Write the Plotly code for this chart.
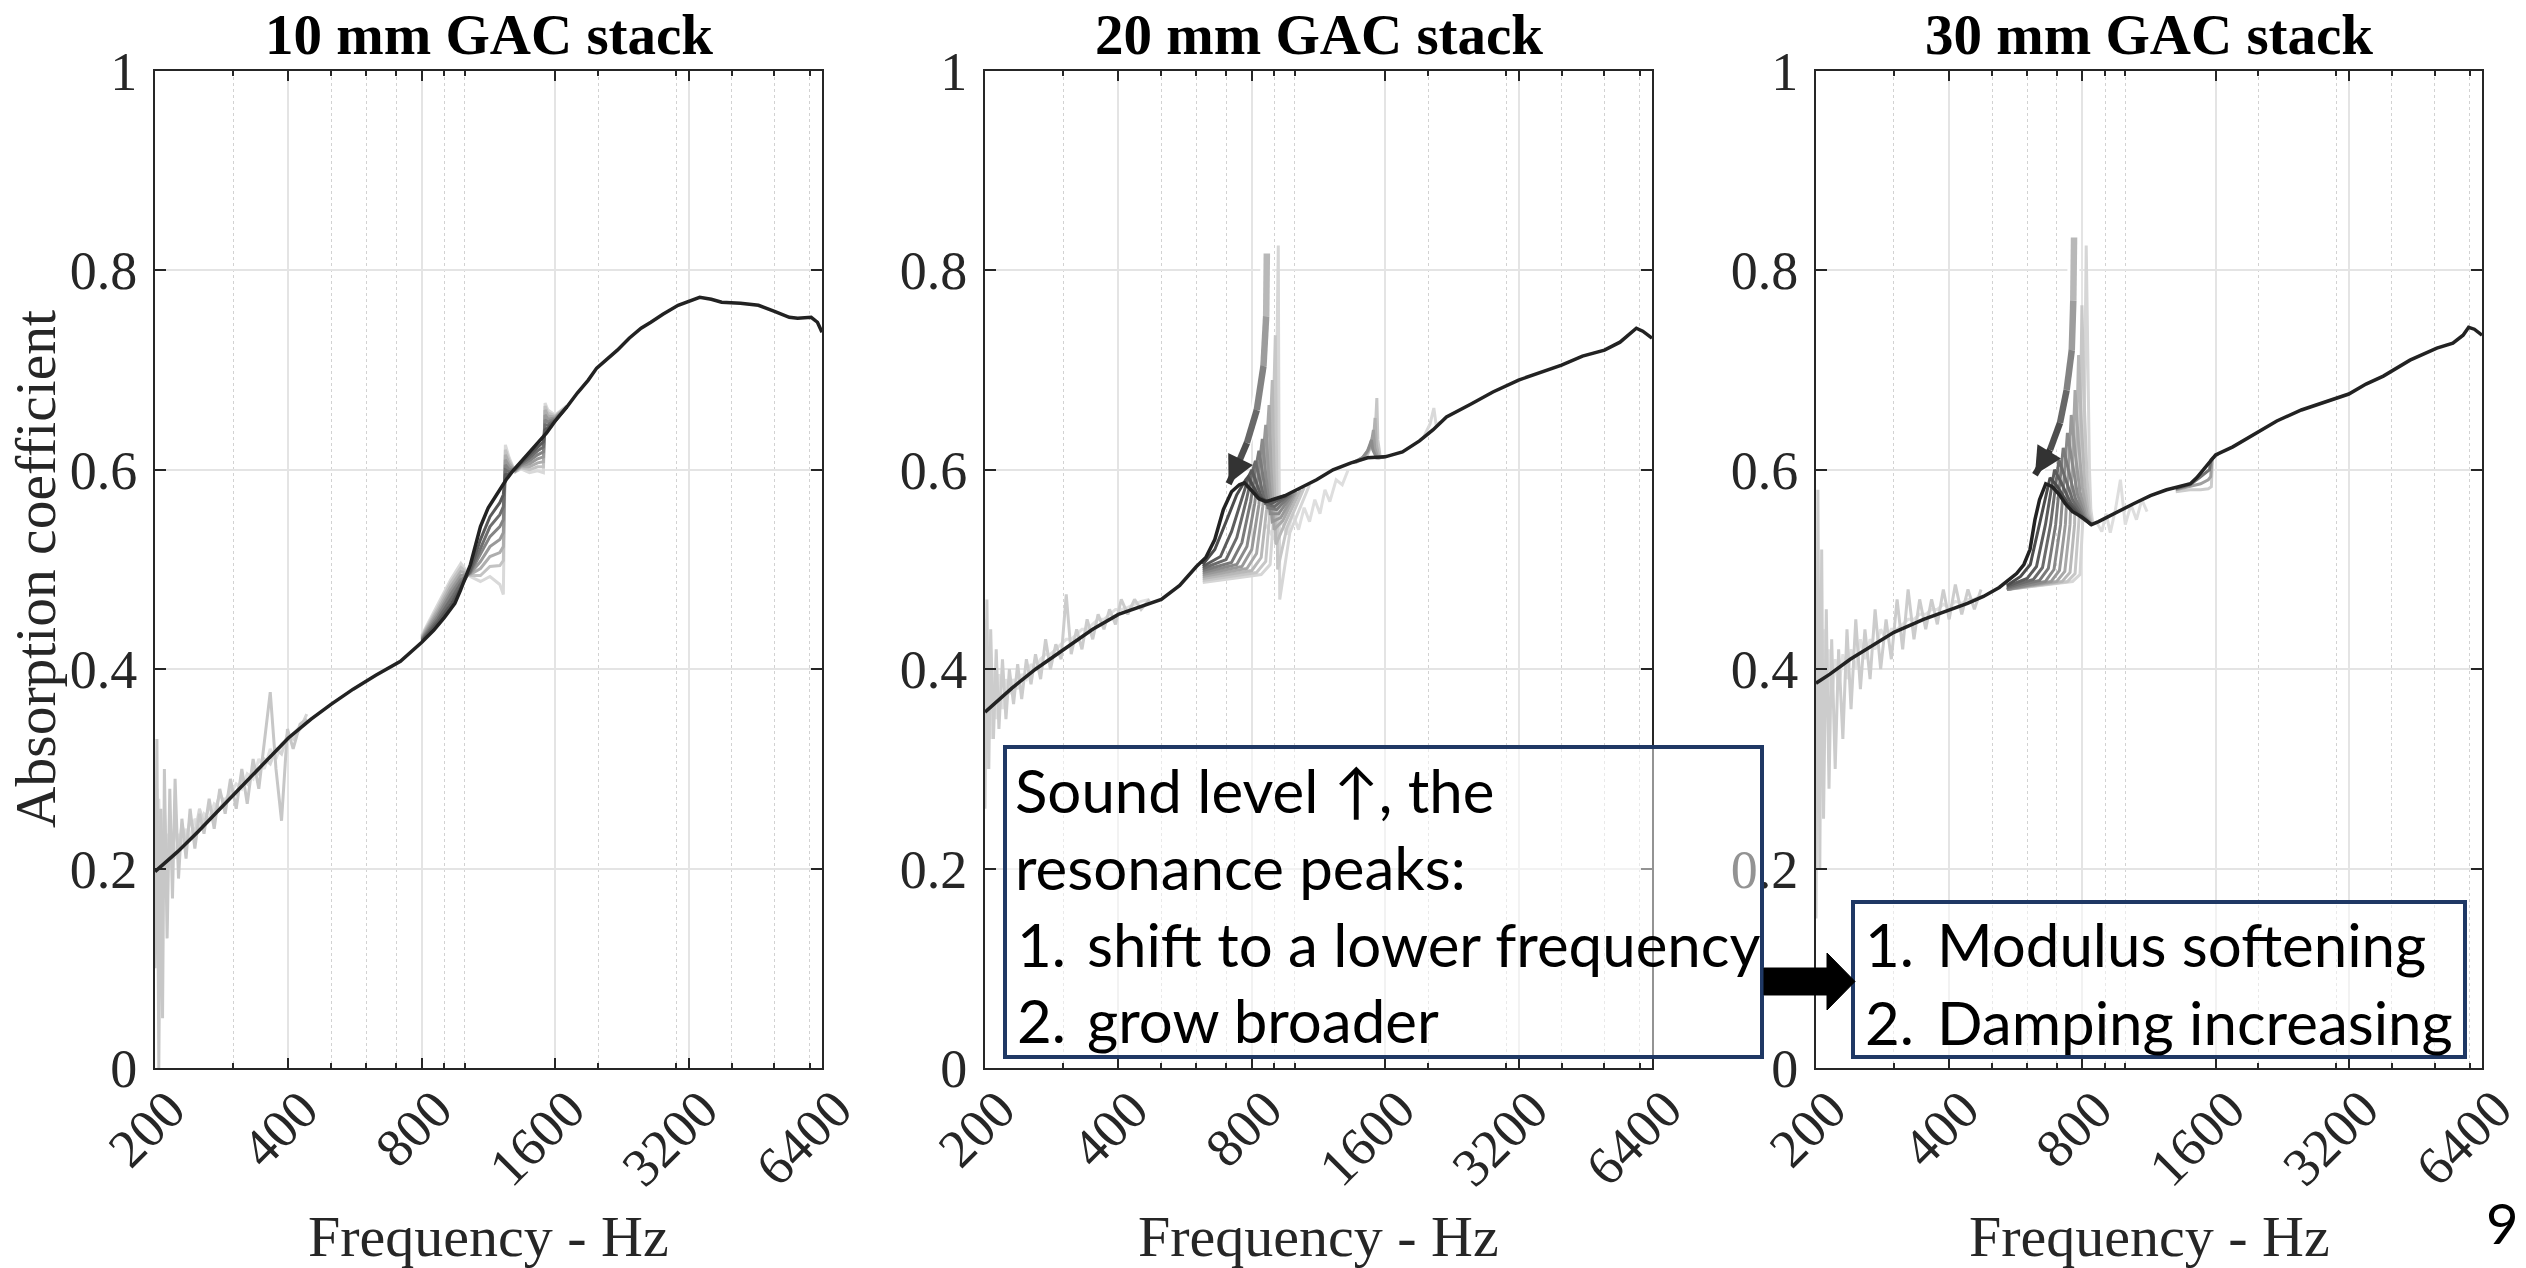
import math
import plotly.graph_objects as go

W, H = 2526, 1268

# ---------------- text / ticks ----------------
TITLES = ["10 mm GAC stack", "20 mm GAC stack", "30 mm GAC stack"]
X_TITLE = "Frequency - Hz"
Y_TITLE = "Absorption coefficient"
TICK_F = [200, 400, 800, 1600, 3200, 6400]
TICK_LABELS = ["200", "400", "800", "1600", "3200", "6400"]
MINOR_F = [300, 500, 600, 700, 900, 1000, 2000, 3000, 4000, 5000, 6000]
Y_TICKS = [0, 0.2, 0.4, 0.6, 0.8, 1.0]
Y_LABELS = ["0", "0.2", "0.4", "0.6", "0.8", "1"]

BOX1_LINES = [("", "Sound level \u2191, the"), ("", "resonance peaks:"),
              ("1.", "shift to a lower frequency"), ("2.", "grow broader")]
BOX2_LINES = [("1.", "Modulus softening"), ("2.", "Damping increasing")]
PAGE_NO = "9"

# ---------------- panel 1 : 10 mm ----------------
P1_F = [200, 210, 225, 250, 275, 300, 330, 365, 400, 450, 500, 560, 630, 716, 800, 851, 900, 950, 978, 1030,
        1085, 1130, 1184, 1240, 1290, 1340, 1396, 1460, 1530, 1600, 1700, 1795, 1900, 1985, 2100, 2210, 2350,
        2500, 2630, 2800, 3030, 3200, 3390, 3600, 3800, 4190, 4600, 5000, 5400, 5640, 6050, 6250, 6400]
P1_A = [0.197, 0.205, 0.217, 0.237, 0.256, 0.273, 0.292, 0.312, 0.331, 0.350, 0.365, 0.380, 0.394, 0.408, 0.427,
        0.439, 0.452, 0.466, 0.479, 0.505, 0.543, 0.562, 0.576, 0.590, 0.600, 0.608, 0.617, 0.627, 0.637, 0.649,
        0.663, 0.677, 0.690, 0.702, 0.711, 0.720, 0.732, 0.742, 0.748, 0.756, 0.765, 0.769, 0.773, 0.771, 0.768,
        0.767, 0.765, 0.759, 0.753, 0.752, 0.753, 0.748, 0.738]
P1_RES_F = [800, 870, 930, 980, 1030, 1085, 1140, 1200, 1222, 1235, 1260, 1300, 1340, 1400, 1460, 1505, 1518,
            1540, 1600, 1700]
P1_RES_A = [
    [0.428, 0.447, 0.465, 0.482, 0.500, 0.530, 0.553, 0.567, 0.575, 0.595, 0.596, 0.601, 0.607, 0.615, 0.623, 0.628, 0.640, 0.642, 0.649, 0.663],
    [0.429, 0.450, 0.470, 0.486, 0.498, 0.522, 0.543, 0.555, 0.563, 0.600, 0.598, 0.600, 0.606, 0.612, 0.619, 0.623, 0.645, 0.645, 0.650, 0.663],
    [0.430, 0.453, 0.475, 0.490, 0.497, 0.515, 0.533, 0.543, 0.550, 0.605, 0.600, 0.600, 0.605, 0.609, 0.615, 0.618, 0.650, 0.648, 0.651, 0.663],
    [0.431, 0.456, 0.479, 0.494, 0.496, 0.508, 0.523, 0.530, 0.537, 0.610, 0.603, 0.599, 0.604, 0.606, 0.611, 0.613, 0.655, 0.651, 0.652, 0.663],
    [0.432, 0.459, 0.483, 0.498, 0.495, 0.501, 0.513, 0.517, 0.523, 0.615, 0.606, 0.599, 0.603, 0.603, 0.607, 0.608, 0.660, 0.654, 0.653, 0.663],
    [0.433, 0.462, 0.487, 0.502, 0.494, 0.494, 0.503, 0.504, 0.509, 0.620, 0.609, 0.598, 0.602, 0.600, 0.603, 0.603, 0.664, 0.657, 0.654, 0.664],
    [0.434, 0.465, 0.490, 0.506, 0.493, 0.488, 0.493, 0.485, 0.475, 0.625, 0.612, 0.598, 0.601, 0.597, 0.599, 0.597, 0.667, 0.660, 0.655, 0.664],
]
P1_NOISE_F = [200, 202, 204, 206, 208, 210, 213, 216, 219, 222, 226, 230, 235, 240, 246, 252, 258, 265, 272, 280,
              288, 296, 305, 314, 323, 333, 343, 353, 364, 375, 386, 398, 410, 425, 440]
P1_NOISE_A = [
    [0.10, 0.33, 0.00, 0.26, 0.05, 0.30, 0.13, 0.28, 0.17, 0.29, 0.19, 0.25, 0.21, 0.26, 0.22, 0.255, 0.235, 0.27,
     0.24, 0.28, 0.255, 0.29, 0.26, 0.30, 0.265, 0.31, 0.28, 0.33, 0.377, 0.30, 0.248, 0.34, 0.32, 0.345, 0.35],
    [0.22, 0.28, 0.12, 0.24, 0.20, 0.26, 0.19, 0.24, 0.21, 0.25, 0.215, 0.245, 0.225, 0.25, 0.235, 0.26, 0.245, 0.262,
     0.255, 0.275, 0.265, 0.28, 0.275, 0.29, 0.285, 0.30, 0.295, 0.31, 0.305, 0.32, 0.315, 0.335, 0.33, 0.34, 0.355],
    [0.25, 0.15, 0.27, 0.17, 0.24, 0.19, 0.235, 0.20, 0.225, 0.21, 0.235, 0.22, 0.24, 0.23, 0.25, 0.24, 0.255, 0.25,
     0.265, 0.26, 0.27, 0.275, 0.285, 0.28, 0.295, 0.29, 0.31, 0.30, 0.32, 0.31, 0.325, 0.33, 0.335, 0.343, 0.35],
]

# ---------------- panel 2 : 20 mm ----------------
P2_F = [200, 215, 230, 260, 305, 350, 400, 450, 500, 550, 600, 630, 660, 690, 720, 750, 770, 800, 830, 860,
        900, 950, 1000, 1060, 1120, 1220, 1340, 1460, 1600, 1750, 1912, 2050, 2200, 2500, 2800, 3200, 3600,
        4000, 4460, 5000, 5420, 5700, 5900, 6100, 6400]
P2_A = [0.357, 0.370, 0.381, 0.400, 0.422, 0.440, 0.455, 0.463, 0.470, 0.484, 0.503, 0.512, 0.530, 0.560, 0.578,
        0.585, 0.587, 0.579, 0.571, 0.568, 0.571, 0.574, 0.579, 0.585, 0.590, 0.600, 0.607, 0.612, 0.613, 0.618,
        0.629, 0.640, 0.653, 0.666, 0.678, 0.690, 0.698, 0.705, 0.714, 0.720, 0.728, 0.737, 0.742, 0.739, 0.732]
P2_RES_F = [
    [620, 660, 700, 740, 775, 785, 800, 830, 870, 950],
    [620, 680, 720, 760, 790, 800, 815, 845, 885, 960],
    [620, 700, 740, 778, 805, 815, 830, 858, 900, 970],
    [620, 720, 760, 795, 820, 830, 845, 870, 910, 980],
    [620, 740, 780, 812, 835, 845, 858, 880, 920, 990],
    [620, 760, 800, 830, 850, 860, 872, 890, 930, 1000],
    [620, 780, 820, 847, 865, 875, 885, 898, 940, 1010],
    [620, 800, 840, 864, 880, 890, 897, 906, 950, 1030],
    [620, 820, 860, 880, 895, 904, 909, 915, 960, 1050],
    [620, 840, 880, 898, 910, 918, 921, 925, 975, 1080],
]
P2_RES_A = [
    [0.505, 0.520, 0.548, 0.575, 0.590, 0.593, 0.586, 0.573, 0.568, 0.574],
    [0.503, 0.513, 0.538, 0.572, 0.595, 0.600, 0.590, 0.570, 0.566, 0.574],
    [0.501, 0.510, 0.532, 0.570, 0.600, 0.609, 0.594, 0.566, 0.563, 0.575],
    [0.499, 0.507, 0.527, 0.568, 0.606, 0.619, 0.598, 0.562, 0.560, 0.575],
    [0.497, 0.505, 0.523, 0.566, 0.612, 0.631, 0.600, 0.556, 0.556, 0.576],
    [0.495, 0.503, 0.520, 0.565, 0.620, 0.645, 0.600, 0.548, 0.552, 0.577],
    [0.493, 0.501, 0.516, 0.563, 0.630, 0.665, 0.600, 0.540, 0.549, 0.578],
    [0.491, 0.499, 0.512, 0.560, 0.640, 0.690, 0.610, 0.525, 0.546, 0.580],
    [0.489, 0.497, 0.508, 0.560, 0.660, 0.735, 0.630, 0.500, 0.542, 0.582],
    [0.487, 0.495, 0.505, 0.560, 0.690, 0.825, 0.650, 0.470, 0.537, 0.585],
]
P2_RES2_F = [
    [1350, 1420, 1460, 1480, 1490, 1500, 1530, 1590],
    [1360, 1430, 1475, 1495, 1505, 1515, 1540, 1600],
    [1370, 1440, 1490, 1510, 1518, 1528, 1550, 1610],
    [1380, 1450, 1500, 1522, 1532, 1540, 1560, 1620],
    [1950, 2020, 2060, 2085, 2130],
]
P2_RES2_A = [
    [0.607, 0.612, 0.619, 0.626, 0.630, 0.620, 0.612, 0.613],
    [0.607, 0.613, 0.622, 0.632, 0.640, 0.622, 0.612, 0.613],
    [0.607, 0.613, 0.625, 0.638, 0.652, 0.625, 0.612, 0.614],
    [0.608, 0.612, 0.628, 0.645, 0.672, 0.630, 0.612, 0.614],
    [0.632, 0.646, 0.662, 0.645, 0.648],
]
P2_MIDNOISE_F = [860, 900, 930, 960, 990, 1020, 1050, 1080, 1110, 1140, 1170, 1200, 1240, 1280, 1320]
P2_MIDNOISE_A = [0.545, 0.530, 0.550, 0.535, 0.556, 0.540, 0.562, 0.548, 0.570, 0.556, 0.580, 0.568, 0.590,
                 0.585, 0.600]
P2_NOISE_F = [200, 202, 204, 206, 209, 212, 215, 219, 223, 227, 232, 237, 242, 248, 254, 260, 267, 274, 281, 289,
              297, 305, 313, 322, 331, 340, 350, 360, 371, 382, 394, 406, 420, 435, 450, 470]
P2_NOISE_A = [
    [0.26, 0.47, 0.30, 0.44, 0.33, 0.42, 0.34, 0.41, 0.35, 0.40, 0.365, 0.405, 0.37, 0.41, 0.385, 0.415, 0.39, 0.43,
     0.40, 0.425, 0.41, 0.475, 0.415, 0.44, 0.42, 0.45, 0.43, 0.455, 0.44, 0.46, 0.445, 0.47, 0.455, 0.47, 0.46, 0.47],
    [0.45, 0.30, 0.42, 0.33, 0.40, 0.35, 0.395, 0.36, 0.39, 0.375, 0.39, 0.38, 0.395, 0.39, 0.405, 0.40, 0.41, 0.415,
     0.415, 0.42, 0.425, 0.43, 0.43, 0.435, 0.44, 0.44, 0.445, 0.45, 0.45, 0.455, 0.46, 0.46, 0.462, 0.465, 0.468, 0.47],
]
P2_ARROW_F = [865, 862, 850, 821, 780, 740, 709]
P2_ARROW_A = [0.817, 0.754, 0.704, 0.660, 0.627, 0.603, 0.586]

# ---------------- panel 3 : 30 mm ----------------
P3_F = [200, 215, 239, 270, 300, 350, 400, 440, 478, 519, 568, 590, 609, 625, 640, 661, 684, 710, 732, 760,
        796, 838, 870, 915, 970, 1044, 1140, 1240, 1320, 1403, 1450, 1500, 1560, 1600, 1750, 1917, 2050, 2200,
        2500, 2800, 3200, 3500, 3830, 4400, 5060, 5500, 5800, 5970, 6150, 6400]
P3_A = [0.386, 0.395, 0.410, 0.425, 0.437, 0.450, 0.459, 0.466, 0.473, 0.482, 0.496, 0.505, 0.520, 0.550, 0.570,
        0.586, 0.583, 0.575, 0.566, 0.558, 0.553, 0.545, 0.548, 0.553, 0.559, 0.566, 0.574, 0.580, 0.583, 0.586,
        0.592, 0.600, 0.610, 0.615, 0.623, 0.633, 0.641, 0.649, 0.660, 0.667, 0.676, 0.686, 0.694, 0.710, 0.722,
        0.727, 0.735, 0.743, 0.741, 0.735]
P3_RES_F = [
    [540, 580, 610, 640, 676, 700, 740, 790, 838],
    [540, 600, 630, 660, 692, 715, 750, 795, 838],
    [540, 620, 650, 678, 708, 728, 760, 800, 838],
    [540, 640, 670, 696, 724, 742, 770, 805, 838],
    [540, 660, 690, 714, 740, 756, 780, 810, 838],
    [540, 680, 710, 732, 755, 770, 790, 815, 838],
    [540, 700, 730, 750, 770, 783, 800, 820, 838],
    [540, 720, 750, 768, 784, 796, 810, 825, 840],
    [540, 740, 770, 786, 798, 808, 820, 830, 842],
    [540, 760, 790, 804, 816, 822, 830, 836, 845],
]
P3_RES_A = [
    [0.484, 0.493, 0.505, 0.545, 0.592, 0.584, 0.567, 0.553, 0.545],
    [0.483, 0.491, 0.503, 0.545, 0.600, 0.588, 0.568, 0.553, 0.545],
    [0.482, 0.490, 0.502, 0.545, 0.610, 0.595, 0.570, 0.553, 0.545],
    [0.481, 0.489, 0.501, 0.545, 0.622, 0.602, 0.572, 0.553, 0.545],
    [0.480, 0.488, 0.500, 0.545, 0.637, 0.610, 0.575, 0.553, 0.545],
    [0.480, 0.488, 0.499, 0.545, 0.655, 0.618, 0.578, 0.553, 0.545],
    [0.480, 0.488, 0.498, 0.545, 0.680, 0.630, 0.582, 0.555, 0.545],
    [0.480, 0.488, 0.497, 0.545, 0.715, 0.645, 0.585, 0.556, 0.545],
    [0.480, 0.488, 0.496, 0.550, 0.765, 0.665, 0.590, 0.558, 0.545],
    [0.480, 0.488, 0.495, 0.560, 0.825, 0.700, 0.600, 0.560, 0.546],
]
P3_RES2_F = [
    [1300, 1400, 1470, 1530, 1550, 1562, 1620],
    [1300, 1400, 1480, 1540, 1560, 1570, 1620],
    [1300, 1400, 1480, 1540, 1565, 1575, 1620],
]
P3_RES2_A = [
    [0.581, 0.585, 0.592, 0.598, 0.600, 0.610, 0.616],
    [0.580, 0.583, 0.586, 0.590, 0.593, 0.611, 0.616],
    [0.578, 0.580, 0.580, 0.581, 0.583, 0.612, 0.616],
]
P3_MIDNOISE_F = [860, 885, 905, 925, 950, 975, 1000, 1030, 1060, 1090, 1120]
P3_MIDNOISE_A = [0.548, 0.538, 0.556, 0.537, 0.560, 0.590, 0.545, 0.565, 0.550, 0.570, 0.558]
P3_NOISE_F = [200, 202, 204, 206, 208, 211, 214, 217, 221, 225, 230, 235, 240, 246, 252, 258, 265, 272, 280, 288,
              296, 305, 314, 323, 333, 343, 354, 365, 376, 388, 400, 413, 427, 441, 456, 472]
P3_NOISE_A = [
    [0.15, 0.58, 0.20, 0.52, 0.25, 0.46, 0.28, 0.43, 0.30, 0.42, 0.33, 0.44, 0.36, 0.45, 0.38, 0.44, 0.39, 0.46,
     0.40, 0.45, 0.41, 0.47, 0.42, 0.48, 0.43, 0.47, 0.44, 0.47, 0.445, 0.48, 0.45, 0.485, 0.455, 0.48, 0.46, 0.48],
    [0.45, 0.30, 0.48, 0.33, 0.44, 0.36, 0.42, 0.37, 0.41, 0.38, 0.415, 0.39, 0.42, 0.40, 0.43, 0.41, 0.43, 0.42,
     0.44, 0.43, 0.44, 0.44, 0.445, 0.45, 0.45, 0.455, 0.455, 0.46, 0.46, 0.465, 0.462, 0.468, 0.466, 0.47, 0.47, 0.474],
]
P3_ARROW_F = [766, 763, 757, 737, 712, 676, 625]
P3_ARROW_A = [0.833, 0.770, 0.720, 0.680, 0.647, 0.620, 0.595]

# ---------------- layout geometry (pixels) ----------------
PANEL_LEFT = [155, 985, 1816]
PANEL_RIGHT = [822, 1652, 2482]
PANEL_TOP, PANEL_BOTTOM = 71, 1068
AX = [("x", "y"), ("x2", "y2"), ("x3", "y3")]
SERIF = "Liberation Serif"
SANS = "Lato"
AXIS_COL = "#262626"
NAVY = "#1F3864"
TICK_SIZE = 54


def gray(g):
    v = int(round(255 * g))
    return f"rgb({v},{v},{v})"


def px(xp):
    return xp / W


def py(yp):
    return 1 - yp / H


fig = go.Figure()


def add(f, a, i, color, width):
    fig.add_trace(go.Scatter(x=f, y=a, mode="lines", xaxis=AX[i][0], yaxis=AX[i][1],
                             line=dict(color=color, width=width), hoverinfo="skip", showlegend=False))


def add_family(flist, alist, i, dark, light, width):
    n = len(alist)
    for k in reversed(range(n)):
        t = k / max(n - 1, 1)
        g = dark + (light - dark) * t
        f = flist[k] if isinstance(flist[0], list) else flist
        add(f, alist[k], i, gray(g), width)


def add_arrow(fs, as_, i):
    n = len(fs) - 1
    add(fs, as_, i, "white", 12)
    for s in range(n):
        t = s / max(n - 1, 1)
        add(fs[s:s + 2], as_[s:s + 2], i, gray(0.72 - 0.52 * t), 6.5)
    lx = 667 / math.log10(32)
    dx = (math.log10(fs[-2]) - math.log10(fs[-1])) * lx
    dy = -(as_[-2] - as_[-1]) * 997
    L = math.hypot(dx, dy)
    fig.add_annotation(xref=AX[i][0], yref=AX[i][1], x=math.log10(fs[-1]), y=as_[-1],
                       ax=dx / L * 20, ay=dy / L * 20, text="", showarrow=True, arrowhead=2,
                       arrowsize=1.1, arrowwidth=5, arrowcolor=gray(0.2), standoff=0)


# panel 1
add_family([P1_NOISE_F] * len(P1_NOISE_A), P1_NOISE_A, 0, 0.78, 0.88, 3)
add_family(P1_RES_F, P1_RES_A, 0, 0.35, 0.85, 3)
add(P1_F, P1_A, 0, "#222222", 3.5)
# panel 2
add_family([P2_NOISE_F] * len(P2_NOISE_A), P2_NOISE_A, 1, 0.80, 0.88, 3)
add(P2_MIDNOISE_F, P2_MIDNOISE_A, 1, gray(0.87), 3)
add_family(P2_RES2_F, P2_RES2_A, 1, 0.55, 0.85, 3)
add_family(P2_RES_F, P2_RES_A, 1, 0.30, 0.84, 3)
add(P2_F, P2_A, 1, "#222222", 3.5)
add_arrow(P2_ARROW_F, P2_ARROW_A, 1)
# panel 3
add_family([P3_NOISE_F] * len(P3_NOISE_A), P3_NOISE_A, 2, 0.80, 0.88, 3)
add(P3_MIDNOISE_F, P3_MIDNOISE_A, 2, gray(0.87), 3)
add_family(P3_RES2_F, P3_RES2_A, 2, 0.45, 0.80, 3)
add_family(P3_RES_F, P3_RES_A, 2, 0.30, 0.84, 3)
add(P3_F, P3_A, 2, "#222222", 3.5)
add_arrow(P3_ARROW_F, P3_ARROW_A, 2)

# ---------------- axes ----------------
layout = {}
for i in range(3):
    sfx = "" if i == 0 else str(i + 1)
    layout[f"xaxis{sfx}"] = dict(
        domain=[px(PANEL_LEFT[i]), px(PANEL_RIGHT[i])], anchor=f"y{sfx}", type="log", automargin=False,
        range=[math.log10(200), math.log10(6400)], tickmode="array", tickvals=TICK_F,
        showticklabels=False, ticks="inside", ticklen=10, tickwidth=2, tickcolor=AXIS_COL,
        showline=True, linecolor=AXIS_COL, linewidth=2, mirror="ticks",
        showgrid=True, gridcolor="#e4e4e4", gridwidth=1.5, zeroline=False,
        minor=dict(tickmode="array", tickvals=MINOR_F, ticks="inside", ticklen=5, tickwidth=1.5,
                   tickcolor=AXIS_COL, showgrid=True, gridcolor="#d2d2d2", gridwidth=1, griddash="dot"),
    )
    layout[f"yaxis{sfx}"] = dict(
        domain=[py(PANEL_BOTTOM), py(PANEL_TOP)], anchor=f"x{sfx}", range=[0, 1], automargin=False,
        tickmode="array", tickvals=Y_TICKS, ticktext=Y_LABELS, ticks="inside", ticklen=11, tickwidth=2,
        tickcolor=AXIS_COL, showline=True, linecolor=AXIS_COL, linewidth=2, mirror="ticks",
        showgrid=True, gridcolor="#e4e4e4", gridwidth=1.5, zeroline=False,
        tickfont=dict(family=SERIF, size=TICK_SIZE, color=AXIS_COL), ticklabelstandoff=5,
    )

fig.update_layout(**layout)

ann = []
for i in range(3):
    cx = (PANEL_LEFT[i] + PANEL_RIGHT[i]) / 2
    ann.append(dict(xref="paper", yref="paper", x=px(cx), y=py(34), text=f"<b>{TITLES[i]}</b>",
                    showarrow=False, xanchor="center", yanchor="middle",
                    font=dict(family=SERIF, size=57, color="#000000")))
    ann.append(dict(xref="paper", yref="paper", x=px(cx), y=py(1236), text=X_TITLE,
                    showarrow=False, xanchor="center", yanchor="middle",
                    font=dict(family=SERIF, size=58, color=AXIS_COL)))
    for f, lab in zip(TICK_F, TICK_LABELS):
        w = 0.5 * TICK_SIZE * len(lab)
        ann.append(dict(xref=AX[i][0], yref="paper", x=math.log10(f), y=py(1100 + 0.3536 * w),
                        xshift=20 - 0.3536 * w, text=lab, textangle=-45, showarrow=False,
                        xanchor="center", yanchor="middle",
                        font=dict(family=SERIF, size=TICK_SIZE, color=AXIS_COL)))
ann.append(dict(xref="paper", yref="paper", x=px(35), y=py(569), text=Y_TITLE, textangle=-90,
                showarrow=False, xanchor="center", yanchor="middle",
                font=dict(family=SERIF, size=57.5, color=AXIS_COL)))

BOX_FONT = dict(family=SANS, size=60, color="#000000")
box1_base = [790, 867, 944, 1020]
for (num, body), yc in zip(BOX1_LINES, box1_base):
    if num:
        ann.append(dict(xref="paper", yref="paper", x=px(1015), y=py(yc), text=num, showarrow=False,
                        xanchor="left", yanchor="middle", font=BOX_FONT))
        ann.append(dict(xref="paper", yref="paper", x=px(1085), y=py(yc), text=body, showarrow=False,
                        xanchor="left", yanchor="middle", font=BOX_FONT))
    else:
        ann.append(dict(xref="paper", yref="paper", x=px(1013), y=py(yc), text=body, showarrow=False,
                        xanchor="left", yanchor="middle", font=BOX_FONT))
box2_base = [944, 1022]
for (num, body), yc in zip(BOX2_LINES, box2_base):
    ann.append(dict(xref="paper", yref="paper", x=px(1863), y=py(yc), text=num, showarrow=False,
                    xanchor="left", yanchor="middle", font=BOX_FONT))
    ann.append(dict(xref="paper", yref="paper", x=px(1935), y=py(yc), text=body, showarrow=False,
                    xanchor="left", yanchor="middle", font=BOX_FONT))
ann.append(dict(xref="paper", yref="paper", x=px(2520), y=py(1222), text=PAGE_NO, showarrow=False,
                xanchor="right", yanchor="middle", font=dict(family=SANS, size=56, color="#000000")))

for a in ann:
    fig.add_annotation(**a)

# ---------------- boxes and block arrow ----------------
shapes = [
    dict(type="rect", xref="paper", yref="paper", x0=px(1005), x1=px(1762), y0=py(1057), y1=py(747),
         line=dict(color=NAVY, width=4), fillcolor="rgba(255,255,255,0.5)", layer="above"),
    dict(type="rect", xref="paper", yref="paper", x0=px(1853), x1=px(2465), y0=py(1057), y1=py(902),
         line=dict(color=NAVY, width=4), fillcolor="rgba(255,255,255,0.5)", layer="above"),
]
arrow_pts = [(1764, 968), (1827, 968), (1827, 953), (1855, 981.5), (1827, 1010), (1827, 995), (1764, 995)]
path = "M " + " L ".join(f"{px(x):.5f},{py(y):.5f}" for x, y in arrow_pts) + " Z"
shapes.append(dict(type="path", xref="paper", yref="paper", path=path, fillcolor="#000000",
                   line=dict(color="#000000", width=1), layer="above"))

fig.update_layout(
    width=W, height=H, margin=dict(l=0, r=0, t=0, b=0, autoexpand=False),
    paper_bgcolor="white", plot_bgcolor="white", showlegend=False, shapes=shapes,
)

fig.write_html("out.html")
